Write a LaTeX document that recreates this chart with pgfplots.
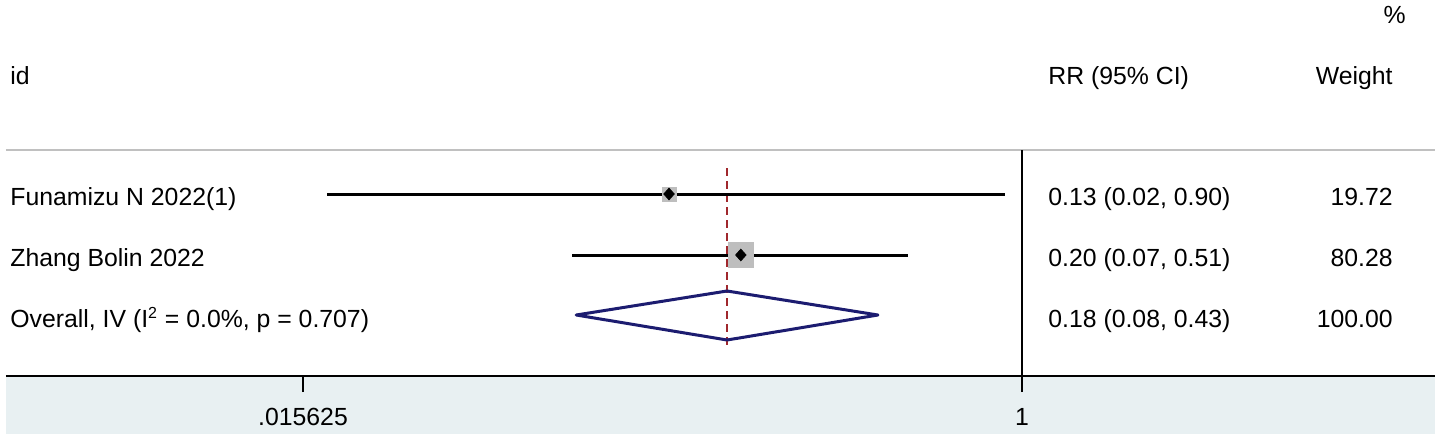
\documentclass[border=0pt]{standalone}
\usepackage{fontspec}
\setmainfont{Liberation Sans}
\usepackage{pgfplots}
\pgfplotsset{compat=1.18}
\definecolor{band}{RGB}{232,240,242}
\definecolor{hdrgray}{RGB}{192,192,192}
\definecolor{sqgray}{RGB}{190,190,190}
\definecolor{refred}{RGB}{160,40,45}
\definecolor{dnavy}{RGB}{28,28,112}
\begin{document}
\begin{tikzpicture}[font=\fontsize{12.4}{15}\selectfont]
\begin{axis}[
    scale only axis,
    width=714.5pt, height=188pt,
    xmode=log, log basis x=2,
    xmin=0.0028035, xmax=10.902,
    ymin=-376, ymax=0,
    axis x line*=bottom, axis y line=none,
    ytick=\empty,
    axis line style={line width=1.2pt},
    xtick={0.015625,1}, xticklabels={.015625,1},
    tick align=outside, major tick length=8pt,
    tick style={black, line width=1.3pt},
    xticklabel style={anchor=base, yshift=-16.5pt, font=\fontsize{12.4}{15}\selectfont},
    clip=false, axis on top,
  ]
  % background band and frame lines
  \fill[band] (axis cs:0.0028035,-376) rectangle (axis cs:10.902,-434);
  \draw[hdrgray, line width=1.3pt] (axis cs:0.0028035,-150) -- (axis cs:10.902,-150);
  \draw[black, line width=1.2pt] (axis cs:1,-150) -- (axis cs:1,-376);
  \coordinate (O) at (rel axis cs:0,1);

  % overall estimate line
  \addplot[refred, line width=1.1pt, dash pattern=on 4pt off 2.5pt] coordinates {(0.1816,-168) (0.1816,-347)};

  % weight boxes
  \addplot[sqgray, only marks, mark=square*, mark size=3.5pt, mark options={fill=sqgray, draw=sqgray}] coordinates {(0.1298,-194)};
  \addplot[sqgray, only marks, mark=square*, mark size=6.25pt, mark options={fill=sqgray, draw=sqgray}] coordinates {(0.1967,-255)};

  % confidence intervals
  \addplot[black, line width=1.5pt] coordinates {(0.0180,-194) (0.905,-194)};
  \addplot[black, line width=1.5pt] coordinates {(0.0742,-255) (0.516,-255)};

  % point estimates
  \addplot[black, only marks, mark=diamond*, mark size=2.9pt, mark options={fill=black, draw=black, xscale=1.2}] coordinates {(0.1298,-194) (0.1967,-255)};

  % pooled diamond
  \addplot[dnavy, line width=1.5pt, line join=round] coordinates {(0.0759,-315) (0.1816,-291) (0.4346,-315) (0.1816,-340) (0.0759,-315)} -- cycle;
\end{axis}
\begin{scope}[shift={(O)}, xshift=-3pt, x=0.5pt, y=-0.5pt]
  \path (0,0) rectangle (1441,440);
  \node[anchor=base east, inner sep=0] at (1406,24) {\%};
  \node[anchor=base west, inner sep=0] at (10,84) {id};
  \node[anchor=base west, inner sep=0] at (1048,84) {RR (95\% CI)};
  \node[anchor=base east, inner sep=0] at (1393,84) {Weight};

  \node[anchor=base west, inner sep=0] at (10,205) {Funamizu N 2022(1)};
  \node[anchor=base west, inner sep=0] at (10,266) {Zhang Bolin 2022};
  \node[anchor=base west, inner sep=0] at (10,327) {Overall, IV (I\textsuperscript{\fontsize{8}{8}\selectfont 2} = 0.0\%, p = 0.707)};

  \node[anchor=base west, inner sep=0] at (1048,205) {0.13 (0.02, 0.90)};
  \node[anchor=base west, inner sep=0] at (1048,266) {0.20 (0.07, 0.51)};
  \node[anchor=base west, inner sep=0] at (1048,327) {0.18 (0.08, 0.43)};

  \node[anchor=base east, inner sep=0] at (1393,205) {19.72};
  \node[anchor=base east, inner sep=0] at (1393,266) {80.28};
  \node[anchor=base east, inner sep=0] at (1393,327) {100.00};
\end{scope}
\end{tikzpicture}
\end{document}
